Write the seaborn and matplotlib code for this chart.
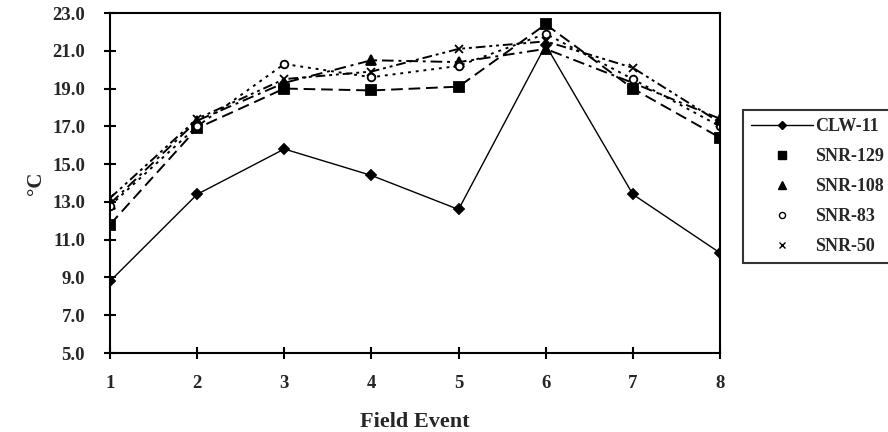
import matplotlib
matplotlib.use("Agg")
import matplotlib.pyplot as plt
import seaborn as sns
import pandas as pd
from matplotlib.lines import Line2D

events = [1, 2, 3, 4, 5, 6, 7, 8]
clw_11 = [8.8, 13.4, 15.8, 14.4, 12.6, 21.3, 13.4, 10.3]
snr_129 = [11.8, 16.9, 19.0, 18.9, 19.1, 22.4, 19.0, 16.4]
snr_108 = [12.9, 17.3, 19.3, 20.5, 20.4, 21.1, 19.3, 17.4]
snr_83 = [12.8, 17.0, 20.3, 19.6, 20.2, 21.9, 19.5, 17.0]
snr_50 = [13.2, 17.4, 19.5, 19.9, 21.1, 21.5, 20.1, 17.2]
y_ticks = [5.0, 7.0, 9.0, 11.0, 13.0, 15.0, 17.0, 19.0, 21.0, 23.0]

series = {
    "CLW-11": clw_11,
    "SNR-129": snr_129,
    "SNR-108": snr_108,
    "SNR-83": snr_83,
    "SNR-50": snr_50,
}

sns.set_theme(style="white")
plt.rcParams["font.family"] = ["Liberation Serif", "DejaVu Serif"]
plt.rcParams["font.weight"] = "bold"

fig = plt.figure(figsize=(8.88, 4.32), dpi=100)
ax = fig.add_axes([110 / 888, 1 - 353 / 432, 610 / 888, 340 / 432])

styles = {
    "CLW-11": dict(marker="D", ms=5, mfc="black", ls="-", dashes=None, lw=1.0),
    "SNR-129": dict(marker="s", ms=6.5, mfc="black", ls="--", dashes=(6, 3), lw=1.4),
    "SNR-108": dict(marker="^", ms=7, mfc="black", ls="-.", dashes=(6, 2.5, 1.5, 2.5), lw=1.4),
    "SNR-83": dict(marker="o", ms=5.5, mfc="white", ls=":", dashes=(1.5, 2.5), lw=1.4),
    "SNR-50": dict(marker="x", ms=5.5, mfc="black", ls="-.", dashes=(5, 2, 1.5, 2, 1.5, 2), lw=1.4),
}

for name, vals in series.items():
    st = styles[name]
    df = pd.DataFrame({"event": events, "temp": vals})
    sns.lineplot(data=df, x="event", y="temp", ax=ax, color="black",
                 marker=st["marker"], markersize=st["ms"], markerfacecolor=st["mfc"],
                 markeredgecolor="black", markeredgewidth=1.3, linewidth=st["lw"],
                 linestyle=st["ls"], legend=False)
    line = ax.lines[-1]
    if st["dashes"] is not None:
        line.set_dashes(st["dashes"])

ax.set_xlim(1, 8)
ax.set_ylim(5, 23)
ax.set_xticks(events)
ax.set_xticklabels([str(e) for e in events], fontsize=13.5, fontweight="bold")
ax.set_yticks(y_ticks)
ax.set_yticklabels([f"{v:.1f}" for v in y_ticks], fontsize=13.5, fontweight="bold")
ax.tick_params(axis="x", direction="inout", length=8, width=1.5, color="black",
               bottom=True, pad=12)
ax.tick_params(axis="y", direction="inout", length=8, width=1.5, color="black",
               left=True, pad=14)
for s in ax.spines.values():
    s.set_color("black")
    s.set_linewidth(1.5)
ax.set_xlabel("Field Event", fontsize=16, fontweight="bold", labelpad=14)
ax.set_ylabel("°C", fontsize=15, fontweight="bold", labelpad=4)

handles = []
for name in series:
    st = styles[name]
    handles.append(Line2D([0], [0], color="black",
                          linestyle="-" if name == "CLW-11" else "none",
                          marker=st["marker"], markersize=st["ms"] * 0.8,
                          markerfacecolor=st["mfc"], markeredgecolor="black",
                          linewidth=1.0))
leg = fig.legend(handles, list(series.keys()), loc="upper left",
                 bbox_to_anchor=(743 / 888, 1 - 110 / 432), bbox_transform=fig.transFigure,
                 frameon=True, fancybox=False, edgecolor="black",
                 prop={"weight": "bold", "size": 13}, handlelength=3.4,
                 handletextpad=0.15, labelspacing=0.72, borderpad=0.45,
                 borderaxespad=0)
leg.get_frame().set_linewidth(1.5)

fig.savefig("out.png", dpi=100, facecolor="white")
